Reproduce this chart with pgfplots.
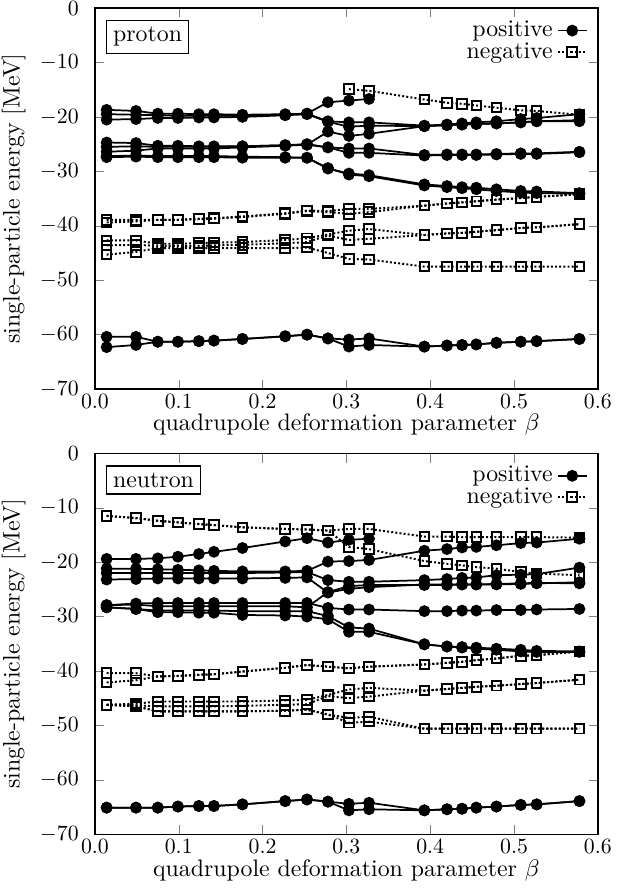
\documentclass[border=0pt,11pt]{standalone}
\usepackage{pgfplots}
\usepackage{pgfplotstable}
\pgfplotsset{compat=1.18}

% proton, positive parity
\pgfplotstableread{
b     P1    P2    P3    Q1    Q2    Q3    Q4    Q5    G1    G2
0.014 -18.7 -19.5 -20.5 -24.7 -25.5 -26.4 -27.4 -27.2 -60.4 -62.3
0.049 -18.9 -19.6 -20.4 -24.8 -25.4 -26.2 -27.3 -27.1 -60.4 -61.9
0.075 -19.4 -19.7 -20.2 -25.3 -25.5 -25.8 -27.4 -27.2 -61.3 -61.3
0.099 -19.4 -19.8 -20.2 -25.3 -25.5 -25.8 -27.4 -27.2 -61.3 -61.3
0.124 -19.5 -19.8 -20.1 -25.4 -25.5 -25.8 -27.4 -27.2 -61.2 -61.2
0.142 -19.5 -19.8 -20.1 -25.4 -25.5 -25.8 -27.4 -27.2 -61.1 -61.1
0.176 -19.6 -19.8 -20.0 -25.4 -25.4 -25.6 -27.5 -27.3 -60.8 -60.8
0.227 -19.5 -19.6 -19.7 -25.2 -25.2 -25.3 -27.5 -27.4 -60.3 -60.3
0.253 -19.4 -19.4 -19.5 -25.1 -25.0 -25.1 -27.5 -27.5 -60.0 -60.0
0.278 -17.3 -20.8 -20.9 -22.7 -25.6 -25.6 -29.5 -29.4 -60.7 -60.7
0.303 -17.0 -21.0 -21.8 -23.5 -25.8 -26.6 -30.4 -30.6 -60.9 -62.2
0.327 -16.7 -21.0 -21.6 -23.1 -25.8 -26.6 -30.7 -30.9 -60.7 -61.9
0.393 nan   -21.6 -21.7 -21.7 -27.0 -27.1 -32.4 -32.6 -62.2 -62.2
0.420 nan   -21.4 -21.5 -21.5 -26.9 -27.0 -32.7 -32.9 -62.0 -62.0
0.438 nan   -21.2 -21.4 -21.4 -26.9 -27.0 -32.9 -33.1 -61.9 -61.9
0.455 nan   -21.0 -21.3 -21.3 -26.9 -27.0 -33.0 -33.3 -61.8 -61.8
0.479 nan   -20.8 -21.2 -21.2 -26.8 -26.9 -33.3 -33.6 -61.5 -61.5
0.508 nan   -20.4 -21.0 -21.0 -26.7 -26.8 -33.6 -33.9 -61.3 -61.3
0.527 nan   -20.2 -20.8 -20.8 -26.7 -26.8 -33.7 -34.0 -61.2 -61.2
0.578 nan   -19.5 -20.8 -20.6 -26.4 -26.5 -34.0 -34.1 -60.8 -60.8
}\protpos

% proton, negative parity
\pgfplotstableread{
b     N1    N2    N2b   N3    N4    N5
0.014 nan   -38.9 -39.4 -42.7 -43.6 -45.3
0.049 nan   -38.9 -39.2 -42.7 -43.5 -44.8
0.075 nan   -38.9 -38.9 -43.3 -43.7 -44.1
0.099 nan   -38.9 -38.9 -43.3 -43.7 -44.1
0.124 nan   -38.7 -38.8 -43.2 -43.7 -44.1
0.142 nan   -38.6 -38.7 -43.1 -43.6 -44.1
0.176 nan   -38.3 -38.4 -43.0 -43.5 -44.1
0.227 nan   -37.7 -37.8 -42.6 -43.2 -44.1
0.253 nan   -37.2 -37.3 -42.3 -43.0 -44.0
0.278 nan   -37.3 -37.5 -41.6 -41.8 -45.0
0.303 -14.9 -36.9 -37.8 -40.9 -42.6 -46.1
0.327 -15.2 -36.9 -37.5 -40.6 -42.4 -46.2
0.393 -16.8 -36.3 -36.3 -41.7 -41.7 -47.5
0.420 -17.4 -35.9 -35.9 -41.4 -41.4 -47.5
0.438 -17.6 -35.7 -35.7 -41.3 -41.3 -47.5
0.455 -17.9 -35.5 -35.5 -41.1 -41.1 -47.5
0.479 -18.3 -35.2 -35.2 -40.8 -40.8 -47.5
0.508 -18.8 -34.9 -34.9 -40.4 -40.4 -47.5
0.527 -18.9 -34.7 -34.7 -40.3 -40.3 -47.5
0.578 -19.6 -34.2 -34.2 -39.7 -39.7 -47.5
}\protneg

% neutron, positive parity
\pgfplotstableread{
b     T1    T2    T3    T4    S1    S2    S3    S4    H1    H2
0.014 -19.4 -21.2 -22.0 -23.2 -27.9 -27.9 -28.3 -28.3 -65.1 -65.1
0.049 -19.4 -21.2 -22.0 -23.1 -27.6 -27.8 -28.6 -28.6 -65.1 -65.1
0.075 -19.3 -21.3 -22.0 -23.0 -27.5 -28.1 -28.9 -29.2 -65.1 -65.1
0.099 -19.0 -21.4 -22.0 -23.0 -27.5 -28.1 -28.9 -29.2 -64.9 -64.9
0.124 -18.5 -21.5 -22.0 -23.0 -27.5 -28.1 -28.9 -29.3 -64.8 -64.8
0.142 -18.1 -21.6 -22.0 -23.0 -27.5 -28.1 -28.9 -29.3 -64.8 -64.8
0.176 -17.4 -21.7 -22.0 -23.0 -27.5 -28.1 -29.0 -29.7 -64.5 -64.5
0.227 -16.2 -21.7 -21.9 -22.9 -27.5 -28.1 -29.0 -29.8 -63.9 -63.9
0.253 -15.6 -21.6 -21.8 -22.8 -27.5 -28.3 -29.0 -30.0 -63.6 -63.6
0.278 -16.4 -19.9 -23.3 -25.6 -28.4 -25.5 -29.9 -30.5 -64.0 -64.0
0.303 -15.9 -19.8 -23.6 -24.9 -28.7 -24.4 -32.0 -32.8 -64.4 -65.6
0.327 -15.7 -19.6 -23.6 -24.6 -28.7 -24.2 -32.2 -32.8 -64.2 -65.4
0.393 nan   -17.9 -23.3 -24.1 -29.0 -24.2 -35.1 -35.1 -65.6 -65.6
0.420 nan   -17.6 -23.1 -24.1 -29.0 -24.2 -35.5 -35.5 -65.4 -65.4
0.438 nan   -17.3 -22.9 -24.1 -28.9 -24.1 -35.6 -35.7 -65.3 -65.3
0.455 nan   -17.2 -22.8 -24.1 -28.9 -24.1 -35.7 -35.9 -65.1 -65.1
0.479 nan   -16.9 -22.4 -24.1 -28.8 -24.0 -35.9 -36.1 -64.9 -64.9
0.508 nan   -16.5 -22.3 -24.0 -28.8 -23.9 -36.1 -36.4 -64.6 -64.6
0.527 nan   -16.4 -22.2 -23.9 -28.7 -23.8 -36.3 -36.5 -64.5 -64.5
0.578 nan   -15.7 -21.0 -23.7 -28.6 -23.9 -36.4 -36.5 -63.9 -63.9
}\neutpos

% neutron, negative parity
\pgfplotstableread{
b     M1    M1b   M2    M2b   M3    M3b   M4    M4b
0.014 -11.5 -11.5 -40.4 -42.1 -46.2 -46.2 -46.2 -46.2
0.049 -11.9 -11.9 -40.4 -41.7 -46.0 -46.3 -46.5 -46.5
0.075 -12.4 -12.4 -41.0 -41.0 -45.6 -46.5 -47.4 -47.4
0.099 -12.7 -12.7 -40.9 -40.9 -45.6 -46.5 -47.4 -47.4
0.124 -13.0 -13.0 -40.7 -40.7 -45.6 -46.5 -47.4 -47.4
0.142 -13.2 -13.2 -40.6 -40.6 -45.6 -46.5 -47.4 -47.4
0.176 -13.6 -13.6 -40.1 -40.1 -45.6 -46.4 -47.4 -47.4
0.227 -13.9 -13.9 -39.4 -39.4 -45.4 -46.2 -47.3 -47.3
0.253 -14.0 -14.0 -38.9 -38.9 -45.3 -46.1 -47.1 -47.1
0.278 -14.2 -14.2 -39.2 -39.2 -44.4 -44.6 -48.0 -48.0
0.303 -13.9 -17.2 -39.5 -39.5 -43.4 -45.0 -48.6 -49.5
0.327 -13.9 -17.6 -39.2 -39.2 -43.1 -44.7 -48.4 -49.3
0.393 -15.3 -19.8 -38.8 -38.8 -43.6 -43.6 -50.6 -50.6
0.420 -15.3 -20.3 -38.5 -38.5 -43.3 -43.3 -50.6 -50.6
0.438 -15.4 -20.6 -38.3 -38.3 -43.1 -43.1 -50.6 -50.6
0.455 -15.4 -20.9 -38.0 -38.0 -42.9 -42.9 -50.6 -50.6
0.479 -15.4 -21.2 -37.7 -37.7 -42.7 -42.7 -50.6 -50.6
0.508 -15.4 -21.8 -37.2 -37.2 -42.4 -42.4 -50.6 -50.6
0.527 -15.4 -22.1 -37.1 -37.1 -42.2 -42.2 -50.6 -50.6
0.578 -15.5 -22.4 -36.4 -36.4 -41.6 -41.6 -50.6 -50.6
}\neutneg

\pgfplotsset{
  pos/.style={black, line width=0.8pt, mark=*, mark size=2.3pt, mark options={solid}},
  neg/.style={black, line width=0.9pt, densely dotted, mark=square, mark size=2.2pt,
    mark options={solid, line width=0.9pt}},
  panel/.style={
    scale only axis, width=231pt, height=175pt,
    xmin=0, xmax=0.6, ymin=-70, ymax=0,
    xtick={0,0.1,0.2,0.3,0.4,0.5,0.6},
    ytick={-70,-60,-50,-40,-30,-20,-10,0},
    tick label style={font=\small},
    xticklabel style={yshift=1.5pt, /pgf/number format/.cd, fixed, fixed zerofill, precision=1},
    yticklabel style={xshift=-3.5pt},
    xlabel={quadrupole deformation parameter $\beta$},
    ylabel={single-particle energy [MeV]},
    xlabel style={yshift=5pt},
    ylabel style={yshift=-1pt},
    unbounded coords=jump,
    line width=0.6pt,
    legend image code/.code={
      \draw[mark repeat=2, mark phase=2, ##1] plot coordinates {(0cm,0cm) (0.23cm,0cm) (0.46cm,0cm)};
    },
    legend style={draw=none, fill=none, at={(0.985,0.985)}, anchor=north east,
      cells={anchor=east}, row sep=-3pt, inner sep=1pt},
    legend plot pos=right,
  },
}

\begin{document}
\begin{tikzpicture}
\begin{axis}[panel, at={(0,0)}]
\addlegendimage{pos}\addlegendentry{positive}
\addlegendimage{neg}\addlegendentry{negative}
\addplot[neg, forget plot] table[x=b, y=N1] {\protneg};
\addplot[neg, forget plot] table[x=b, y=N2] {\protneg};
\addplot[neg, forget plot] table[x=b, y=N2b] {\protneg};
\addplot[neg, forget plot] table[x=b, y=N3] {\protneg};
\addplot[neg, forget plot] table[x=b, y=N4] {\protneg};
\addplot[neg, forget plot] table[x=b, y=N5] {\protneg};
\addplot[pos, forget plot] table[x=b, y=P1] {\protpos};
\addplot[pos, forget plot] table[x=b, y=P2] {\protpos};
\addplot[pos, forget plot] table[x=b, y=P3] {\protpos};
\addplot[pos, forget plot] table[x=b, y=Q1] {\protpos};
\addplot[pos, forget plot] table[x=b, y=Q2] {\protpos};
\addplot[pos, forget plot] table[x=b, y=Q3] {\protpos};
\addplot[pos, forget plot] table[x=b, y=Q4] {\protpos};
\addplot[pos, forget plot] table[x=b, y=Q5] {\protpos};
\addplot[pos, forget plot] table[x=b, y=G1] {\protpos};
\addplot[pos, forget plot] table[x=b, y=G2] {\protpos};
\node[draw, fill=white, line width=0.5pt, inner sep=3pt, anchor=north west]
  at (rel axis cs:0.022,0.968) {proton};
\end{axis}

\begin{axis}[panel, at={(0,-204.5pt)}]
\addlegendimage{pos}\addlegendentry{positive}
\addlegendimage{neg}\addlegendentry{negative}
\addplot[neg, forget plot] table[x=b, y=M1] {\neutneg};
\addplot[neg, forget plot] table[x=b, y=M1b] {\neutneg};
\addplot[neg, forget plot] table[x=b, y=M2] {\neutneg};
\addplot[neg, forget plot] table[x=b, y=M2b] {\neutneg};
\addplot[neg, forget plot] table[x=b, y=M3] {\neutneg};
\addplot[neg, forget plot] table[x=b, y=M3b] {\neutneg};
\addplot[neg, forget plot] table[x=b, y=M4] {\neutneg};
\addplot[neg, forget plot] table[x=b, y=M4b] {\neutneg};
\addplot[pos, forget plot] table[x=b, y=T1] {\neutpos};
\addplot[pos, forget plot] table[x=b, y=T2] {\neutpos};
\addplot[pos, forget plot] table[x=b, y=T3] {\neutpos};
\addplot[pos, forget plot] table[x=b, y=T4] {\neutpos};
\addplot[pos, forget plot] table[x=b, y=S1] {\neutpos};
\addplot[pos, forget plot] table[x=b, y=S2] {\neutpos};
\addplot[pos, forget plot] table[x=b, y=S3] {\neutpos};
\addplot[pos, forget plot] table[x=b, y=S4] {\neutpos};
\addplot[pos, forget plot] table[x=b, y=H1] {\neutpos};
\addplot[pos, forget plot] table[x=b, y=H2] {\neutpos};
\node[draw, fill=white, line width=0.5pt, inner sep=3pt, anchor=north west]
  at (rel axis cs:0.022,0.968) {neutron};
\end{axis}
\pgfresetboundingbox
\useasboundingbox (-43.6pt,-231pt) rectangle (246.6pt,178.7pt);
\end{tikzpicture}
\end{document}
